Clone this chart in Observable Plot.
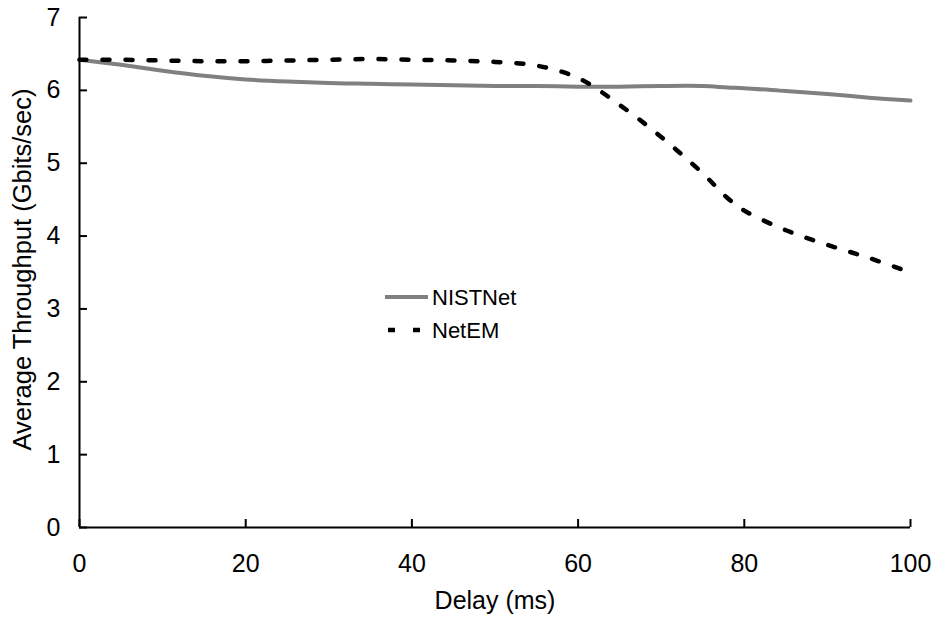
<!DOCTYPE html>
<html>
<head>
<meta charset="utf-8">
<script src="https://cdn.jsdelivr.net/npm/d3@7"></script>
<script src="https://cdn.jsdelivr.net/npm/@observablehq/plot@0.6"></script>
<style>
  html, body { margin: 0; padding: 0; background: #fff; }
  #wrap { position: relative; width: 935px; height: 622px; }
  #legend { position: absolute; left: 384px; top: 280px; }
</style>
</head>
<body>
<div id="wrap"><div id="chart"></div><svg id="legend" width="160" height="70"></svg></div>
<script>
const delays = [0, 5, 10, 15, 20, 25, 30, 35, 40, 45, 50, 55, 60, 65, 70, 75, 78, 80, 85, 90, 95, 100];
const nistnet = [6.42, 6.35, 6.27, 6.20, 6.15, 6.12, 6.10, 6.09, 6.08, 6.07, 6.06, 6.06, 6.05, 6.05, 6.06, 6.06, 6.04, 6.03, 5.99, 5.95, 5.90, 5.86];
const netem   = [6.42, 6.42, 6.41, 6.40, 6.40, 6.41, 6.42, 6.43, 6.42, 6.41, 6.39, 6.34, 6.17, 5.80, 5.36, 4.86, 4.52, 4.35, 4.08, 3.88, 3.70, 3.50];
const xTicks = [0, 20, 40, 60, 80, 100];
const yTicks = [0, 1, 2, 3, 4, 5, 6, 7];
const seriesNames = ["NISTNet", "NetEM"];
const xTitle = "Delay (ms)";
const yTitle = "Average Throughput (Gbits/sec)";

const data = [];
delays.forEach((d, i) => {
  data.push({series: seriesNames[0], delay: d, value: nistnet[i]});
  data.push({series: seriesNames[1], delay: d, value: netem[i]});
});

const W = 935, H = 622, mL = 79, mR = 25, mT = 17, mB = 95;
const font = "'Liberation Sans', Arial, sans-serif";
const fs = 25;

const chart = Plot.plot({
  width: W, height: H,
  marginLeft: mL, marginRight: mR, marginTop: mT, marginBottom: mB,
  style: {fontFamily: font, fontSize: fs + "px", color: "#000", background: "#fff"},
  x: {domain: [0, 100], label: null},
  y: {domain: [0, 7], label: null},
  marks: [
    Plot.axisX({ticks: xTicks, tickFormat: d3.format("d"), tickSize: 0, tickPadding: 27, fontSize: fs, label: null}),
    Plot.axisY({ticks: yTicks, tickFormat: d3.format("d"), tickSize: 0, tickPadding: 19, fontSize: fs, label: null}),
    Plot.text([xTitle], {frameAnchor: "bottom", text: d => d, dy: 81, fontSize: fs, fill: "#000"}),
    Plot.text([yTitle], {frameAnchor: "left", textAnchor: "middle", text: d => d, rotate: -90, dx: -57, dy: -3, fontSize: 25.5, fill: "#000"}),
    Plot.tickX(xTicks, {x: d => d, insetTop: H - mT - mB - 8, stroke: "#000", strokeWidth: 2}),
    Plot.tickY(yTicks, {y: d => d, insetRight: W - mL - mR - 8, stroke: "#000", strokeWidth: 2}),
    Plot.line(data.filter(d => d.series === "NISTNet"), {x: "delay", y: "value", stroke: "#808080", strokeWidth: 4, curve: "catmull-rom"}),
    Plot.line(data.filter(d => d.series === "NetEM"), {x: "delay", y: "value", stroke: "#000", strokeWidth: 4.5, strokeDasharray: "7,16", curve: "catmull-rom"}),
    Plot.ruleX([0], {stroke: "#000", strokeWidth: 2}),
    Plot.ruleY([0], {stroke: "#000", strokeWidth: 2})
  ]
});
document.getElementById("chart").appendChild(chart);

// legend
const lg = d3.select("#legend");
const items = [
  {name: seriesNames[0], stroke: "#808080", dash: null, width: 4, x1: 1},
  {name: seriesNames[1], stroke: "#000", dash: "7,18", width: 4.5, x1: 4}
];
items.forEach((it, i) => {
  const y = 17 + i * 33;
  lg.append("line").attr("x1", it.x1).attr("x2", it.dash ? 37 : 44).attr("y1", y).attr("y2", y)
    .attr("stroke", it.stroke).attr("stroke-width", it.width)
    .attr("stroke-dasharray", it.dash);
  lg.append("text").attr("x", 48).attr("y", y).attr("dy", "0.35em")
    .attr("font-family", font).attr("font-size", 22).attr("fill", "#000").text(it.name);
});
</script>
</body>
</html>
